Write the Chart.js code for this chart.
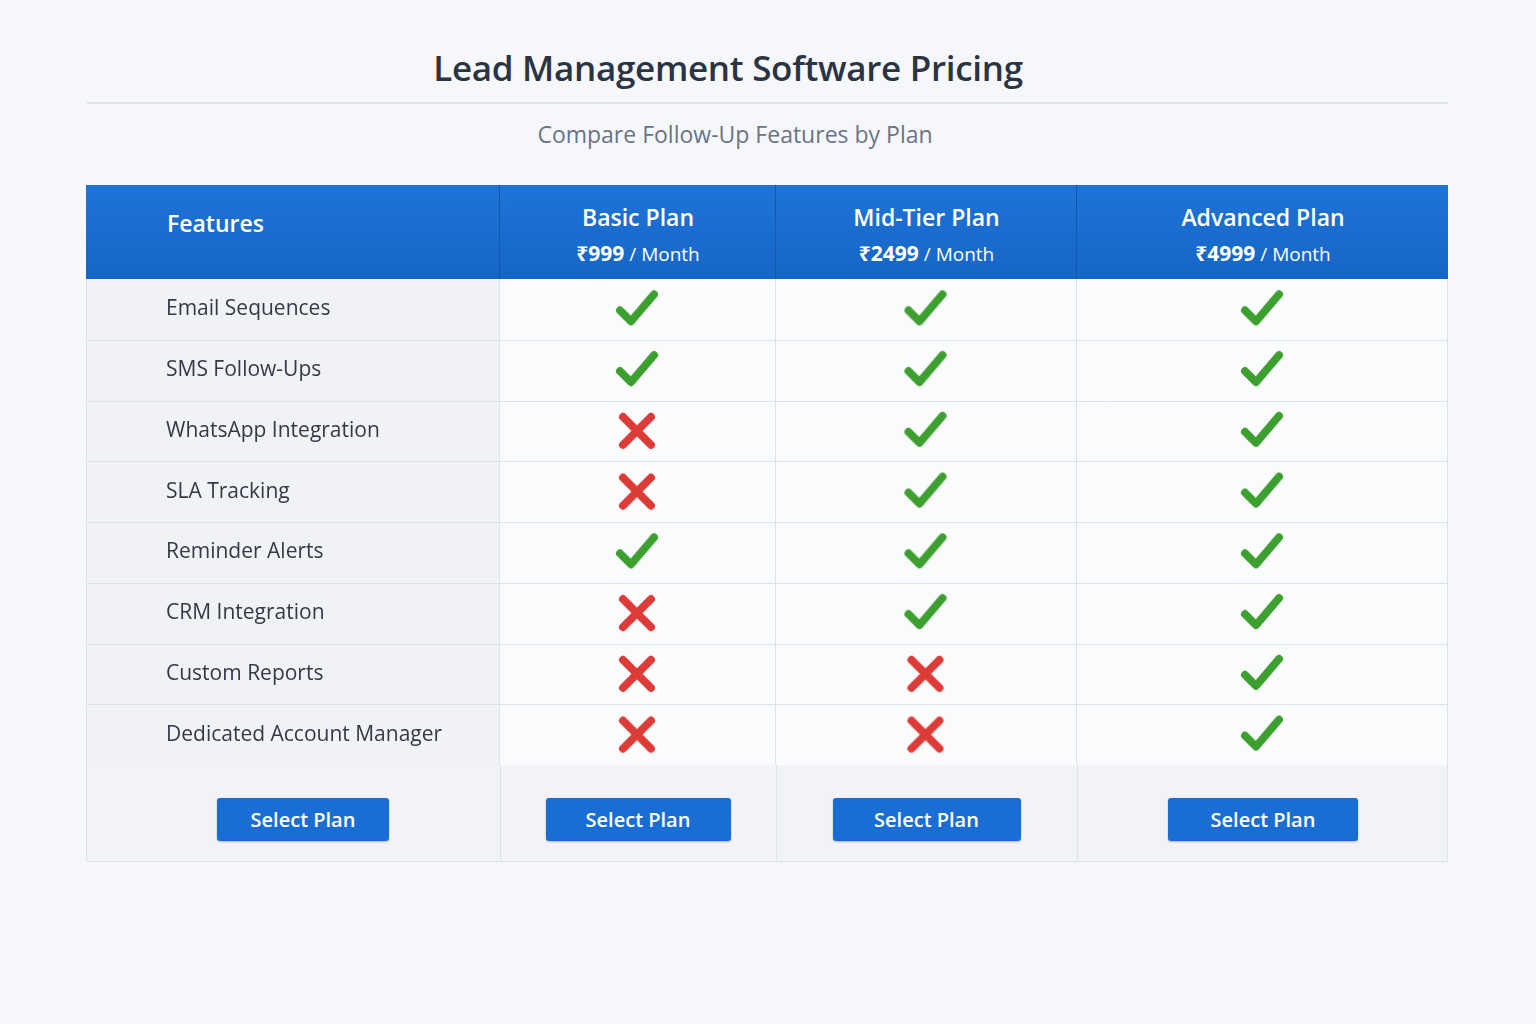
<!DOCTYPE html>
<html>
<head>
<meta charset="utf-8">
<script src="https://cdn.jsdelivr.net/npm/chart.js@4"></script>
<style>
  body { margin: 0; width: 1536px; height: 1024px; background: #f6f7fb; font-family: "Open Sans", "Noto Sans", sans-serif; position: relative; overflow: hidden; }
  .title { position: absolute; top: 44px; left: 0; width: 1456px; text-align: center; font-size: 35px; font-weight: 600; color: #2b3443; letter-spacing: -0.3px; }
  .rule { position: absolute; top: 102px; left: 87px; width: 1361px; height: 2px; background: #dfe3ea; }
  .sub { position: absolute; top: 118px; left: 0; width: 1470px; text-align: center; font-size: 23px; color: #6b7385; }
  .head { position: absolute; top: 185px; left: 86px; width: 1362px; height: 94px; background: linear-gradient(#1f74d6, #1565c6); color: #fff; }
  .hc { position: absolute; top: 0; height: 94px; text-align: center; border-left: 1px solid #1259ad; }
  .hc b { display: block; margin-top: 16px; font-size: 23px; font-weight: 600; }
  .hc span { display: block; margin-top: 6px; font-size: 19px; }
  .hc span strong { font-size: 21px; }
  .foot { position: absolute; top: 765px; left: 86px; width: 1360px; height: 96px; background: #f1f3f7; border: 1px solid #dde1e8; border-top: none; }
  .btn { position: absolute; top: 33px; height: 43px; line-height: 43px; background: #1a6ed3; color: #fff; text-align: center; font-size: 20px; font-weight: 600; border-radius: 3px; box-shadow: 0 1px 2px rgba(0,0,0,.25); }
  .vl { position: absolute; top: 0; height: 96px; width: 1px; background: #dde1e8; }
  #wrap { position: absolute; top: 279px; left: 86px; width: 1362px; height: 486px; }
</style>
</head>
<body>
<div class="title">Lead Management Software Pricing</div>
<div class="rule"></div>
<div class="sub">Compare Follow-Up Features by Plan</div>
<div class="head" id="head"></div>
<div id="wrap"><canvas id="c"></canvas></div>
<div class="foot" id="foot"></div>
<script>
// Data
const features = ['Email Sequences', 'SMS Follow-Ups', 'WhatsApp Integration', 'SLA Tracking',
  'Reminder Alerts', 'CRM Integration', 'Custom Reports', 'Dedicated Account Manager'];
const plans = ['Basic Plan', 'Mid-Tier Plan', 'Advanced Plan'];
const prices = ['₹999', '₹2499', '₹4999'];
const basic    = [1, 1, 0, 0, 1, 0, 0, 0];
const midTier  = [1, 1, 1, 1, 1, 1, 0, 0];
const advanced = [1, 1, 1, 1, 1, 1, 1, 1];
const included = [basic, midTier, advanced];

// Layout (column edges in px, relative to plan area)
const featureColWidth = 413;
const colEdges = [0, 276, 577, 949];

// Header + footer
const head = document.getElementById('head');
const foot = document.getElementById('foot');
head.innerHTML = '<div class="hc" style="left:0;width:413px;border:none;text-align:left"><b style="margin-top:22px;margin-left:81px">Features</b></div>';
foot.innerHTML = '<div class="btn" style="left:130px;width:172px">Select Plan</div>';
const btnW = [185, 188, 190];
plans.forEach((p, i) => {
  const l = featureColWidth + colEdges[i], w = colEdges[i + 1] - colEdges[i];
  head.innerHTML += `<div class="hc" style="left:${l}px;width:${w}px"><b>${p}</b><span><strong>${prices[i]}</strong> / Month</span></div>`;
  foot.innerHTML += `<div class="vl" style="left:${l}px"></div><div class="btn" style="left:${l + (w - btnW[i]) / 2}px;width:${btnW[i]}px">Select Plan</div>`;
});

// Mark icons
function makeIcon(ok) {
  const cv = document.createElement('canvas');
  cv.width = 46; cv.height = 46;
  const g = cv.getContext('2d');
  g.lineCap = 'round'; g.lineJoin = 'round';
  if (ok) {
    g.strokeStyle = '#3d9f2f'; g.lineWidth = 8;
    g.beginPath(); g.moveTo(6, 24); g.lineTo(17, 35); g.lineTo(40, 8); g.stroke();
  } else {
    g.strokeStyle = '#dd3b38'; g.lineWidth = 8;
    g.beginPath(); g.moveTo(9, 9); g.lineTo(37, 37); g.moveTo(37, 9); g.lineTo(9, 37); g.stroke();
  }
  return cv;
}
const checkIcon = makeIcon(true), crossIcon = makeIcon(false);

const points = [], styles = [];
included.forEach((col, i) => col.forEach((v, j) => {
  points.push({ x: (colEdges[i] + colEdges[i + 1]) / 2, y: features[j] });
  styles.push(v ? checkIcon : crossIcon);
}));

const tablePlugin = {
  id: 'table',
  beforeDatasetsDraw(chart) {
    const { ctx, chartArea: a, scales: { x, y } } = chart;
    ctx.save();
    ctx.fillStyle = '#f0f2f6'; ctx.fillRect(0, a.top, a.left, a.bottom - a.top);
    ctx.fillStyle = '#fafbfd'; ctx.fillRect(a.left, a.top, a.right - a.left, a.bottom - a.top);
    ctx.strokeStyle = '#dde1e8'; ctx.lineWidth = 1;
    const step = (a.bottom - a.top) / features.length;
    for (let j = 1; j < features.length; j++) {
      const py = Math.round(y.getPixelForValue(features[j]) - step / 2) + 0.5;
      ctx.beginPath(); ctx.moveTo(0, py); ctx.lineTo(a.right, py); ctx.stroke();
    }
    colEdges.forEach(e => {
      const px = Math.min(Math.round(x.getPixelForValue(e)) + 0.5, a.right - 0.5);
      ctx.beginPath(); ctx.moveTo(px, a.top); ctx.lineTo(px, a.bottom); ctx.stroke();
    });
    ctx.beginPath(); ctx.moveTo(0.5, a.top); ctx.lineTo(0.5, a.bottom); ctx.stroke();
    ctx.fillStyle = '#333a45'; ctx.font = '21px "Open Sans", sans-serif';
    ctx.textBaseline = 'middle';
    features.forEach(f => ctx.fillText(f, 80, y.getPixelForValue(f)));
    ctx.restore();
  }
};

new Chart(document.getElementById('c'), {
  type: 'scatter',
  data: { datasets: [{ data: points, pointStyle: styles, radius: 23, hoverRadius: 23 }] },
  options: {
    responsive: true, maintainAspectRatio: false, animation: false,
    layout: { padding: 0, autoPadding: false },
    plugins: { legend: { display: false }, tooltip: { enabled: false } },
    scales: {
      x: { type: 'linear', min: colEdges[0], max: colEdges[colEdges.length - 1], display: false },
      y: { type: 'category', labels: features, offset: true, grid: { display: false }, border: { display: false },
        ticks: { display: false }, afterFit: s => { s.width = featureColWidth; } }
    }
  },
  plugins: [tablePlugin]
});
</script>
</body>
</html>
